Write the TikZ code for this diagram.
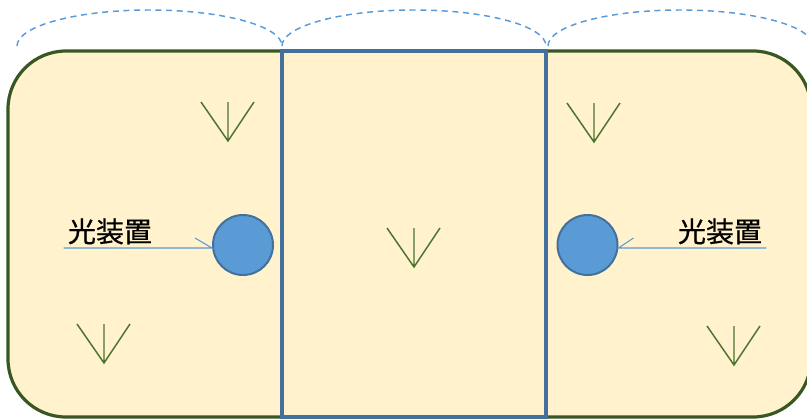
\documentclass[tikz,border=0pt]{standalone}
\usepackage{fontspec}
\newfontfamily\cjk[FakeBold=0.6]{Noto Sans CJK JP}
\usetikzlibrary{calc}
\definecolor{roomfill}{HTML}{FFF2CC}
\definecolor{roomline}{HTML}{385723}
\definecolor{midline}{HTML}{41719C}
\definecolor{lampfill}{HTML}{5B9BD5}
\definecolor{markline}{HTML}{4A7330}

\begin{document}
\begin{tikzpicture}
[x=0.75pt,y=-0.75pt,
 room/.style={draw=roomline,fill=roomfill,line width=2.4pt,rounded corners=43.5pt},
 midroom/.style={draw=midline,fill=roomfill,line width=2.6pt},
 span/.style={draw=lampfill,line width=1.1pt,dash pattern=on 4.5pt off 3.5pt},
 lamp/.style={circle,draw=midline,fill=lampfill,line width=1.5pt,inner sep=0pt,minimum size=45pt},
 lbl/.style={font=\cjk\fontsize{21}{25}\selectfont,inner sep=0pt,anchor=base},
 leader/.style={draw=lampfill,line width=0.8pt},
 vmark/.style={draw=markline,line width=1.1pt}]

\useasboundingbox (0,0) rectangle (807,419);
\clip (0,0) rectangle (807,419);

\draw[room] (8,51) rectangle (811,417);
\draw[midroom] (282,51) rectangle (546,417);

\draw[span] (17,46) arc[start angle=180,end angle=360,x radius=132.5,y radius=36];
\draw[span] (282,46) arc[start angle=180,end angle=360,x radius=132,y radius=36];
\draw[span] (548,46) arc[start angle=180,end angle=360,x radius=132.5,y radius=36];

\node (lampL) at (243,245) [lamp] {};
\node (lampR) at (587.5,245) [lamp] {};

\node (lblL) at (110,242) [lbl] {光装置};
\node (lblR) at (720,242) [lbl] {光装置};

\draw[leader] ($(lblL.base west)+(-4,6)$) -- ($(lampL.west)+(0,3)$) -- ++(-17,-10);
\draw[leader] ($(lblR.base east)+(4,6)$) -- ($(lampR.east)+(0,3)$) -- ++(15,-10);

\foreach \x/\y in {228/102, 594/103, 414/228, 104/324, 734/326}
	\draw[vmark] (\x-27,\y) -- (\x,\y+39) -- (\x+26,\y) (\x,\y) -- (\x,\y+39);

\end{tikzpicture}
\end{document}
